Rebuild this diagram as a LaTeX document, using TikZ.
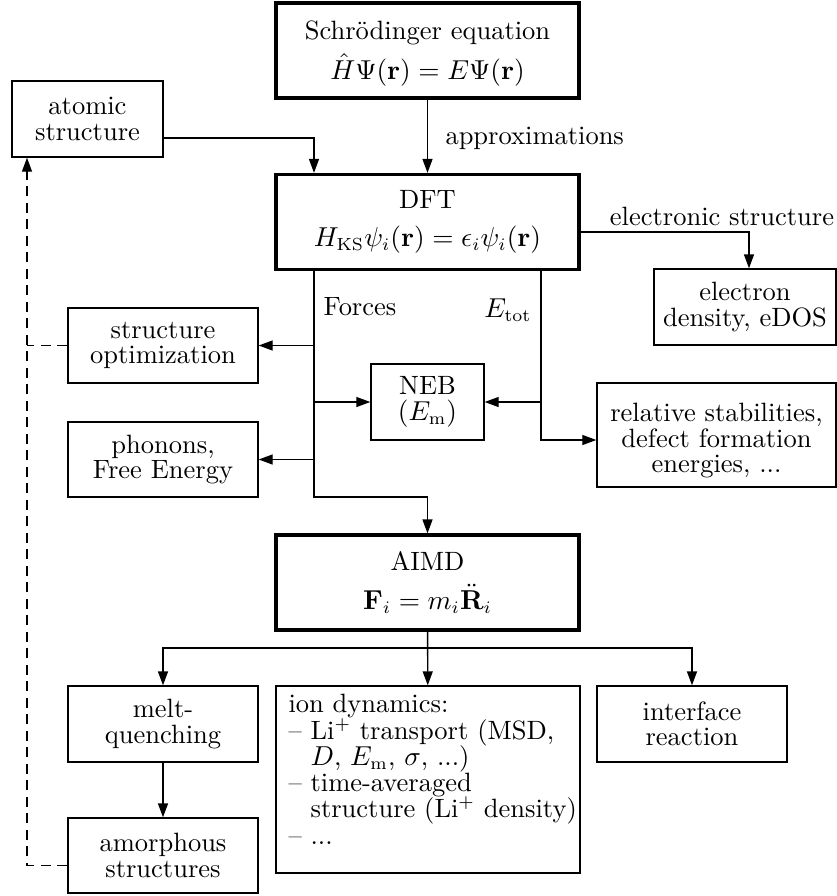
\documentclass[tikz,border=0pt]{standalone}
\usetikzlibrary{arrows.meta,calc}
\newcommand\dgfont{\fontsize{10.6}{10.2}\selectfont\lineskiplimit=-20pt\relax}
\newcommand\iofont{\fontsize{10.6}{10.5}\selectfont\lineskiplimit=-20pt\relax}
\begin{document}
\begin{tikzpicture}[x=0.4pt,y=-0.4pt,
  box/.style={draw, line width=0.55pt, align=center, inner sep=0pt, font=\dgfont},
  bigbox/.style={box, line width=1.3pt, minimum width=121.2pt, minimum height=38pt},
  lbl/.style={inner sep=0pt, font=\dgfont},
  conn/.style={line width=0.55pt},
  arr/.style={conn, -{Triangle[length=5.6pt,width=4pt]}},
  dsh/.style={conn, dash pattern=on 4pt off 2.6pt},
]
\useasboundingbox (0,0) rectangle (837,896);

% main boxes
\node[bigbox] (schr) at (427.5,50.5) {\rule{0pt}{10pt}Schrödinger equation\\[5.5pt] $\hat H\Psi(\mathbf r)=E\Psi(\mathbf r)$};
\node[bigbox] (dft) at (427.5,222) {DFT\\[5pt] $H_{\mathrm{KS}}\psi_i(\mathbf r)=\epsilon_i\psi_i(\mathbf r)$};
\node[bigbox] (aimd) at (427.5,582.5) {AIMD\\[5.5pt] $\mathbf F_i=m_i\ddot{\mathbf R}_i$};

% side boxes
\node[box, minimum width=60.4pt, minimum height=30.4pt] (atomic) at (87.5,119) {atomic\\structure};
\node[box, minimum width=76pt, minimum height=30pt] (sopt) at (163,345.5) {structure\\optimization};
\node[box, minimum width=76pt, minimum height=30pt] (phon) at (163,459.5) {phonons,\\Free Energy};
\node[box, minimum width=45.2pt, minimum height=30.4pt] (neb) at (427.5,402) {NEB\\$(E_{\mathrm m})$};
\node[box, minimum width=72.8pt, minimum height=30.4pt] (edens) at (745,307) {electron\\density, eDOS};
\node[box, minimum width=95.6pt, minimum height=41.6pt] (rel) at (716.5,435) {\rule{0pt}{12pt}relative stabilities,\\defect formation\\energies, ...};
\node[box, minimum width=76pt, minimum height=30.4pt] (melt) at (163,724) {melt-\\quenching};
\node[box, minimum width=76pt, minimum height=30pt] (amorph) at (163,855.5) {amorphous\\structures};
\node[box, minimum width=76pt, minimum height=30.4pt] (interface) at (692,724) {interface\\reaction};
\node[box, minimum width=121.6pt, minimum height=74.8pt] (ion) at (428,779.5) {};
\node[lbl, anchor=north west, align=left, font=\iofont] (iontxt) at (288,694)
  {ion dynamics:\\
   \textendash{} Li$^+$ transport (MSD,\\
   \hphantom{\textendash{} }$D$, $E_{\mathrm m}$, $\sigma$, ...)\\
   \textendash{} time-averaged\\
   \hphantom{\textendash{} }structure (Li$^+$ density)\\
   \textendash{} ...};

% labels
\node[lbl, anchor=west] (approx) at (445,138) {approximations};
\node[lbl] (forces) at (360,307) {Forces};
\node[lbl] (etot) at (508,310) {$E_{\mathrm{tot}}$};
\node[lbl] (elstr) at (722,216) {electronic structure};

% helper coordinates
\coordinate (fx) at (314,0);
\coordinate (ex) at (541,0);
\coordinate (elx) at (749,0);
\coordinate (dx) at (27,0);
\coordinate (fturn) at (314,497);
\coordinate (branch) at (428,648);

% connectors
\draw[arr] (schr) -- (dft);
\draw[arr] ([yshift=-7.6pt]atomic.east) -| (dft.north -| fx);
\draw[arr] ([yshift=-4pt]dft.east) -| (edens.north -| elx);
\draw[arr] (dft.south -| fx) -- (fturn) -| (aimd.north);
\draw[arr] (sopt.east -| fx) -- (sopt.east);
\draw[arr] (neb.west -| fx) -- (neb.west);
\draw[arr] (phon.east -| fx) -- (phon.east);
\draw[arr] (dft.south -| ex) |- ([yshift=-2pt]rel.west);
\draw[arr] (neb.east -| ex) -- (neb.east);
\draw[arr] (aimd) -- (ion);
\draw[arr] (branch) -| (melt.north);
\draw[arr] (branch) -| (interface.north);
\draw[arr] (melt) -- (amorph);
\draw[dsh, -{Triangle[length=5.6pt,width=4pt]}] ([yshift=-4pt]amorph.west) -| (atomic.south -| dx);
\draw[dsh] (sopt.west) -- (sopt.west -| dx);
\end{tikzpicture}
\end{document}
